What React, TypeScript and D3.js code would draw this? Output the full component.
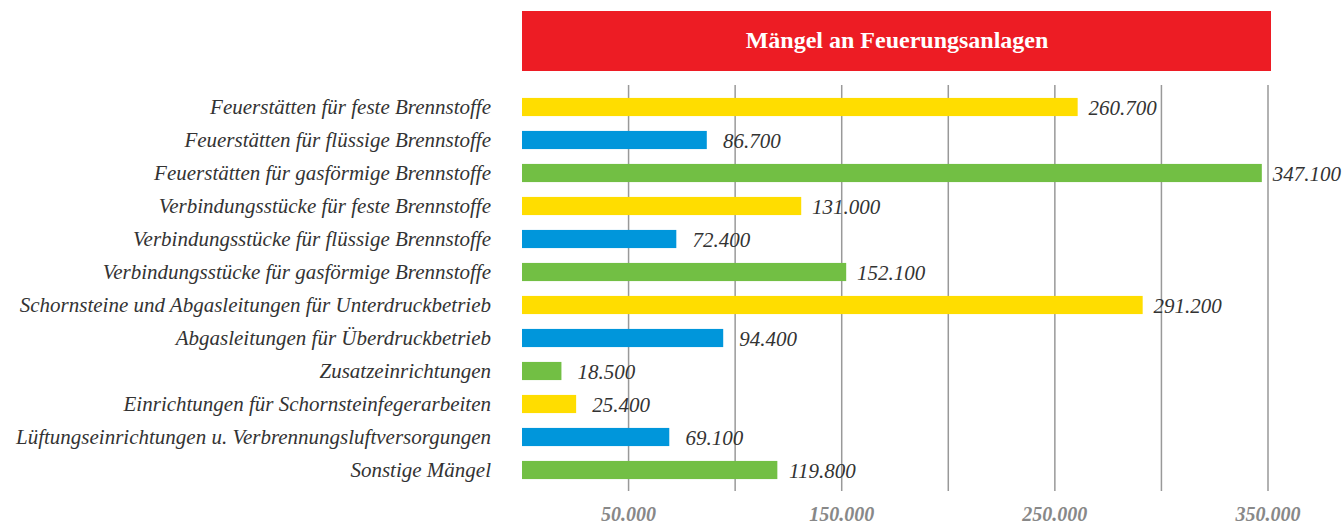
import React, { useRef, useEffect } from "react";
import * as d3 from "d3";

const categories = [
  "Feuerstätten für feste Brennstoffe",
  "Feuerstätten für flüssige Brennstoffe",
  "Feuerstätten für gasförmige Brennstoffe",
  "Verbindungsstücke für feste Brennstoffe",
  "Verbindungsstücke für flüssige Brennstoffe",
  "Verbindungsstücke für gasförmige Brennstoffe",
  "Schornsteine und Abgasleitungen für Unterdruckbetrieb",
  "Abgasleitungen für Überdruckbetrieb",
  "Zusatzeinrichtungen",
  "Einrichtungen für Schornsteinfegerarbeiten",
  "Lüftungseinrichtungen u. Verbrennungsluftversorgungen",
  "Sonstige Mängel",
];
const values = [260700, 86700, 347100, 131000, 72400, 152100, 291200, 94400, 18500, 25400, 69100, 119800];
const barColors = ["#FFDD00", "#0096DB", "#72BF44"];
const gridValues = [50000, 100000, 150000, 200000, 250000, 300000, 350000];
const tickLabels = [50000, 150000, 250000, 350000];
const title = "Mängel an Feuerungsanlagen";

const fmt = (v: number) => d3.format(",")(v).replace(/,/g, ".");

const App = () => {
  const ref = useRef<SVGSVGElement>(null);
  const width = 1343;
  const height = 526;

  useEffect(() => {
    const svg = d3.select(ref.current);
    svg.selectAll("*").remove();
    const font = "Liberation Serif";

    const x = d3.scaleLinear().domain([0, 350000]).range([522, 1268]);
    const y = d3
      .scaleBand()
      .domain(categories)
      .range([90.5, 486.5])
      .paddingInner(0.45)
      .paddingOuter(0.225);

    // title box
    svg.append("rect")
      .attr("x", 522).attr("y", 11).attr("width", 749).attr("height", 60)
      .attr("fill", "#ED1C24");
    svg.append("text")
      .attr("x", 897).attr("y", 48)
      .attr("text-anchor", "middle")
      .attr("fill", "#fff")
      .attr("font-family", font)
      .attr("font-weight", "bold")
      .attr("font-size", 24)
      .text(title);

    // grid
    svg.append("g").selectAll("line")
      .data(gridValues).enter().append("line")
      .attr("x1", (d) => x(d)).attr("x2", (d) => x(d))
      .attr("y1", 85).attr("y2", 491)
      .attr("stroke", "#999").attr("stroke-width", 1.5);

    // bars
    svg.append("g").selectAll("rect")
      .data(values).enter().append("rect")
      .attr("x", x(0))
      .attr("y", (d, i) => y(categories[i])!)
      .attr("width", (d) => x(d) - x(0))
      .attr("height", y.bandwidth())
      .attr("fill", (d, i) => barColors[i % 3]);

    // value labels
    svg.append("g").selectAll("text")
      .data(values).enter().append("text")
      .attr("x", (d) => x(d) + 45)
      .attr("y", (d, i) => y(categories[i])! + y.bandwidth() / 2 + 8)
      .attr("text-anchor", "middle")
      .attr("fill", "#333")
      .attr("font-family", font)
      .attr("font-style", "italic")
      .attr("font-size", 21)
      .text((d) => fmt(d));

    // category labels
    svg.append("g").selectAll("text")
      .data(categories).enter().append("text")
      .attr("x", 491)
      .attr("y", (d) => y(d)! + y.bandwidth() / 2 + 7)
      .attr("text-anchor", "end")
      .attr("fill", "#333")
      .attr("font-family", font)
      .attr("font-style", "italic")
      .attr("font-size", 21)
      .text((d) => d);

    // axis tick labels
    svg.append("g").selectAll("text")
      .data(tickLabels).enter().append("text")
      .attr("x", (d) => x(d))
      .attr("y", 521)
      .attr("text-anchor", "middle")
      .attr("fill", "#888")
      .attr("font-family", font)
      .attr("font-style", "italic")
      .attr("font-weight", "bold")
      .attr("font-size", 20)
      .text((d) => fmt(d));
  }, []);

  return (
    <svg
      ref={ref}
      width={width}
      height={height}
      style={{ position: "fixed", left: 0, top: 0, background: "#fff" }}
    ></svg>
  );
};

export default App;
